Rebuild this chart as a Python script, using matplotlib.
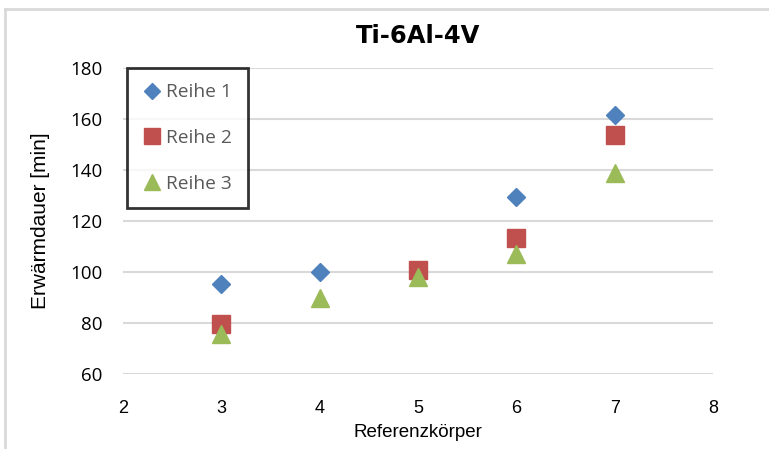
import matplotlib
matplotlib.use("Agg")
import matplotlib.pyplot as plt
from matplotlib.lines import Line2D

# data
x1 = [3, 4, 6, 7]
reihe1 = [95.3, 100.0, 129.4, 161.5]
x2 = [3, 5, 6, 7]
reihe2 = [79.6, 100.8, 113.3, 153.7]
x3 = [3, 4, 5, 6, 7]
reihe3 = [75.5, 89.8, 98.0, 107.0, 138.8]

plt.rcParams['font.family'] = ['Liberation Sans', 'DejaVu Sans']

fig = plt.figure(figsize=(7.69, 4.49), dpi=100)
ax = fig.add_axes([123 / 769, 1 - 374 / 449, 590 / 769, 306 / 449])

ax.plot(x1, reihe1, ls='none', marker='D', ms=9.5, color='#4F81BD', label="Reihe 1")
ax.plot(x2, reihe2, ls='none', marker='s', ms=13, color='#C0504D', label="Reihe 2")
ax.plot(x3, reihe3, ls='none', marker='^', ms=13.5, color='#9BBB59', label="Reihe 3")

ax.set_xlim(2, 8)
ax.set_ylim(60, 180)
ax.set_xticks(range(2, 9))
ax.set_yticks(range(60, 181, 20))
ax.grid(axis='y', color='#d9d9d9', lw=1.5)
ax.set_axisbelow(True)
for s in ax.spines.values():
    s.set_visible(False)
ax.tick_params(axis='x', length=0, labelsize=13, pad=19)
ax.tick_params(axis='y', length=0, labelsize=13.5, pad=15)
for lab in ax.get_yticklabels():
    lab.set_family(['Open Sans', 'DejaVu Sans'])
ax.set_xlabel("Referenzkörper", fontsize=13.5, labelpad=5)
ax.set_ylabel("Erwärmdauer [min]", fontsize=15, labelpad=14)
ax.set_title("Ti-6Al-4V", fontsize=17.5, fontweight='bold', pad=18,
             family=['DejaVu Sans'])

leg = ax.legend(loc='upper left', bbox_to_anchor=(0.007, 1.0), frameon=True, fancybox=False,
                edgecolor='black', labelspacing=1.45, handletextpad=0.25,
                handlelength=1.0, borderpad=0.8, markerscale=0.85, borderaxespad=0,
                prop={'family': ['Open Sans', 'DejaVu Sans'], 'size': 13.8})
leg.get_frame().set_linewidth(2)
for t in leg.get_texts():
    t.set_color('#595959')

# chart border (top and left only, the rest is cropped away)
fig.add_artist(Line2D([5 / 769, 5 / 769], [0, 1 - 9 / 449], transform=fig.transFigure,
                      color='#d9d9d9', lw=2))
fig.add_artist(Line2D([5 / 769, 1], [1 - 9 / 449, 1 - 9 / 449], transform=fig.transFigure,
                      color='#d9d9d9', lw=2))

fig.savefig("out.png", dpi=100)
